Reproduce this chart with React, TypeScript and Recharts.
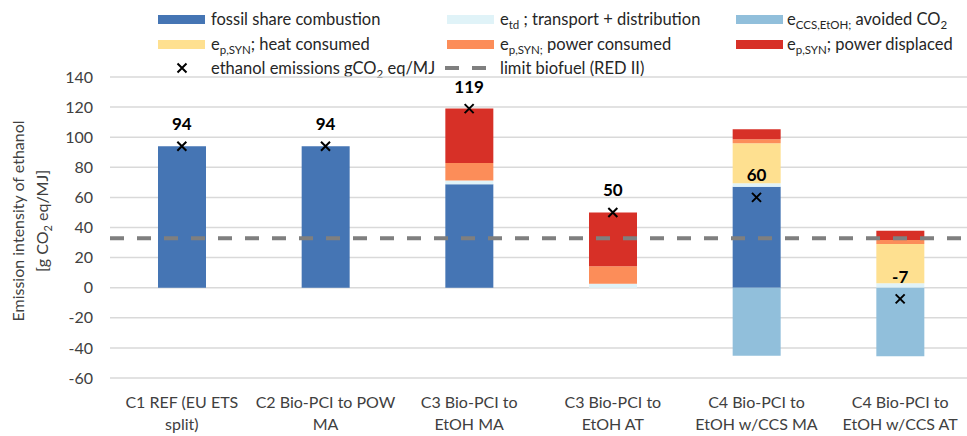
import React from "react";
import {
  ComposedChart,
  Bar,
  Line,
  XAxis,
  YAxis,
  CartesianGrid,
  ReferenceLine,
  LabelList,
} from "recharts";

// ---- data ----
const categories = ["C1", "C2", "C3 MA", "C3 AT", "C4 MA", "C4 AT"];
const tickLine1 = [
  "C1 REF (EU ETS",
  "C2 Bio-PCI to POW",
  "C3 Bio-PCI to",
  "C3 Bio-PCI to",
  "C4 Bio-PCI to",
  "C4 Bio-PCI to",
];
const tickLine2 = ["split)", "MA", "EtOH MA", "EtOH AT", "EtOH w/CCS MA", "EtOH w/CCS AT"];

const fossilShare = [94, 94, 68.7, 0, 67.1, 0];
const transportDistribution = [0, 0, 2.6, 2.6, 2.3, 2.9];
const heatConsumed = [0, 0, 0, 0, 26.5, 26.1];
const powerConsumed = [0, 0, 11.6, 11.6, 2.7, 2.7];
const powerDisplaced = [0, 0, 36.1, 35.8, 6.6, 6.2];
const avoidedCO2 = [0, 0, 0, 0, -45.2, -45.5];
const ethanolEmissions = [94, 94, 119, 50, 60, -7.4];
const redIILimit = 32.9;
const yTicks = [-60, -40, -20, 0, 20, 40, 60, 80, 100, 120, 140];

const data = categories.map((c, i) => ({
  cat: c,
  fossil: fossilShare[i],
  td: transportDistribution[i],
  heat: heatConsumed[i],
  pc: powerConsumed[i],
  pd: powerDisplaced[i],
  ccs: avoidedCO2[i],
  em: ethanolEmissions[i],
}));

const C = {
  fossil: "#4575b4",
  td: "#e0f3f8",
  ccs: "#91bfdb",
  heat: "#fee090",
  pc: "#fc8d59",
  pd: "#d73027",
};

const FONT = "Lato, 'Open Sans', sans-serif";
const TXT = "#404040";

const XTick = (props: any) => {
  const { x, payload } = props;
  const i = categories.indexOf(payload.value);
  return (
    <g>
      <text x={x} y={408} textAnchor="middle" fontSize={16} fill={TXT} fontFamily={FONT}>
        {tickLine1[i]}
      </text>
      <text x={x} y={430} textAnchor="middle" fontSize={16} fill={TXT} fontFamily={FONT}>
        {tickLine2[i]}
      </text>
    </g>
  );
};

const Cross = (props: any) => {
  const { cx, cy, index } = props;
  if (cx == null || cy == null) return <g key={"x" + index} />;
  const s = 4.5;
  return (
    <path
      key={"x" + index}
      d={`M${cx - s},${cy - s}L${cx + s},${cy + s}M${cx - s},${cy + s}L${cx + s},${cy - s}`}
      stroke="#000"
      strokeWidth={2}
      fill="none"
    />
  );
};

const EmLabel = (props: any) => {
  const { x, y, value } = props;
  return (
    <text
      x={x}
      y={y - 16}
      textAnchor="middle"
      fontSize={17}
      fontWeight="bold"
      fill="#000"
      fontFamily={FONT}
    >
      {Math.round(value)}
    </text>
  );
};

const YLabel = () => (
  <g fontFamily={FONT} fontSize={16} fill={TXT}>
    <text transform="translate(24,221) rotate(-90)" textAnchor="middle">
      Emission intensity of ethanol
    </text>
    <text transform="translate(48,221) rotate(-90)" textAnchor="middle">
      [g CO<tspan fontSize={11} dy={4}>2</tspan>
      <tspan dy={-4}> eq/MJ]</tspan>
    </text>
  </g>
);

const Sub = ({ children }: any) => (
  <span style={{ fontSize: 11.5, position: "relative", top: 4 }}>{children}</span>
);

const Swatch = ({ x, y, color }: any) => (
  <div
    style={{ position: "absolute", left: x, top: y - 4.5, width: 47, height: 9, background: color }}
  />
);

const LText = ({ x, y, children }: any) => (
  <div
    style={{
      position: "absolute",
      left: x,
      top: y - 11,
      height: 22,
      lineHeight: "22px",
      fontSize: 16.5,
      color: "#262626",
      whiteSpace: "nowrap",
      fontFamily: FONT,
    }}
  >
    {children}
  </div>
);

const LegendBlock = () => {
  const r1 = 19;
  const r2 = 44;
  const r3 = 68;
  return (
    <div style={{ position: "absolute", left: 0, top: 0, width: 967, height: 80 }}>
      <Swatch x={158} y={r1} color={C.fossil} />
      <LText x={211} y={r1}>fossil share combustion</LText>
      <Swatch x={447} y={r1} color={C.td} />
      <LText x={500} y={r1}>
        e<Sub>td</Sub> ; transport + distribution
      </LText>
      <Swatch x={736} y={r1} color={C.ccs} />
      <LText x={787} y={r1}>
        e<Sub>CCS,EtOH;</Sub> avoided CO<Sub>2</Sub>
      </LText>

      <Swatch x={158} y={r2} color={C.heat} />
      <LText x={211} y={r2}>
        e<Sub>p,SYN</Sub>; heat consumed
      </LText>
      <Swatch x={447} y={r2} color={C.pc} />
      <LText x={500} y={r2}>
        e<Sub>p,SYN;</Sub> power consumed
      </LText>
      <Swatch x={736} y={r2} color={C.pd} />
      <LText x={787} y={r2}>
        e<Sub>p,SYN</Sub>; power displaced
      </LText>

      <svg
        style={{ position: "absolute", left: 170, top: r3 - 8 }}
        width={24}
        height={16}
      >
        <path d="M7.5,3.5L16.5,12.5M7.5,12.5L16.5,3.5" stroke="#000" strokeWidth={2} />
      </svg>
      <LText x={211} y={r3}>
        ethanol emissions gCO<Sub>2</Sub> eq/MJ
      </LText>
      <svg style={{ position: "absolute", left: 444, top: r3 - 4 }} width={54} height={8}>
        <line
          x1={1}
          y1={4}
          x2={53}
          y2={4}
          stroke="#7f7f7f"
          strokeWidth={4}
          strokeDasharray="14 13"
        />
      </svg>
      <LText x={500} y={r3}>limit biofuel (RED II)</LText>
    </div>
  );
};

export default function App() {
  return (
    <div
      style={{
        position: "absolute",
        left: 0,
        top: 0,
        width: 967,
        height: 436,
        overflow: "hidden",
        background: "#fff",
        fontFamily: FONT,
      }}
    >
      <LegendBlock />
      <div style={{ position: "absolute", left: 0, top: 0 }}>
        <ComposedChart
          width={972}
          height={436}
          data={data}
          margin={{ top: 77, right: 0, bottom: 0, left: 0 }}
          stackOffset="sign"
          barSize={48}
        >
          <CartesianGrid vertical={false} stroke="#d9d9d9" strokeWidth={1.5} />
          <XAxis
            dataKey="cat"
            height={58}
            axisLine={false}
            tickLine={false}
            tick={<XTick />}
            interval={0}
          />
          <YAxis
            width={110}
            domain={[-60, 140]}
            ticks={yTicks}
            axisLine={false}
            tickLine={false}
            tickSize={6}
            tickMargin={11}
            tick={{ fontSize: 16, fill: TXT, fontFamily: FONT }}
            label={{ content: <YLabel /> }}
            allowDataOverflow
          />
          <Bar dataKey="fossil" stackId="a" fill={C.fossil} isAnimationActive={false} />
          <Bar dataKey="td" stackId="a" fill={C.td} isAnimationActive={false} />
          <Bar dataKey="heat" stackId="a" fill={C.heat} isAnimationActive={false} />
          <Bar dataKey="pc" stackId="a" fill={C.pc} isAnimationActive={false} />
          <Bar dataKey="pd" stackId="a" fill={C.pd} isAnimationActive={false} />
          <Bar dataKey="ccs" stackId="a" fill={C.ccs} isAnimationActive={false} />
          <ReferenceLine
            y={redIILimit}
            stroke="#7f7f7f"
            strokeWidth={4}
            strokeDasharray="14 13"
          />
          <Line
            dataKey="em"
            stroke="none"
            strokeWidth={0}
            dot={(p: any) => <Cross {...p} />}
            activeDot={false}
            isAnimationActive={false}
          >
            <LabelList dataKey="em" content={<EmLabel />} />
          </Line>
        </ComposedChart>
      </div>
    </div>
  );
}
